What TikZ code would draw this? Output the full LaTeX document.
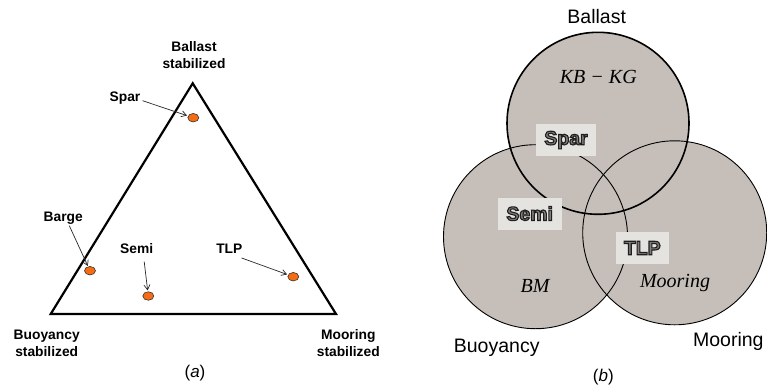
\documentclass[tikz,border=0pt]{standalone}
\usepackage{fontspec}
\setmainfont{Liberation Sans}
\newfontfamily\mathlike{Liberation Serif}
\usetikzlibrary{arrows.meta,shapes.geometric}
\definecolor{circfill}{RGB}{198,191,185}
\definecolor{boxfill}{RGB}{229,227,223}
\definecolor{txtgray}{RGB}{128,125,122}
\definecolor{dotorange}{RGB}{245,108,18}
\newcommand{\outlinetext}[1]{\textcolor{txtgray}{\special{pdf:literal direct 0.12 0.12 0.12 RG 1.1 w 2 Tr}#1\special{pdf:literal direct 0 Tr}}}
\begin{document}
\begin{tikzpicture}[x=1pt,y=-1pt,
  lab/.style={font=\bfseries\fontsize{13.8}{16.5}\selectfont, align=center, inner sep=0pt},
  captext/.style={font=\fontsize{17}{20}\selectfont, inner sep=0pt},
  vlab/.style={font=\fontsize{19.5}{22}\selectfont, inner sep=0pt},
  mlab/.style={font=\mathlike\itshape\fontsize{20}{22}\selectfont, inner sep=0pt},
  dot/.style={ellipse, draw=black!80, line width=0.6pt, fill=dotorange, minimum width=11pt, minimum height=8.5pt, inner sep=0pt},
  arr/.style={draw=black!85, line width=0.7pt, -{Straight Barb[length=5pt,width=6pt]}},
  circ/.style={draw=black, line width=0.9pt},
  tbox/.style={fill=boxfill, inner sep=0pt, minimum height=32pt, font=\bfseries\fontsize{19.5}{22}\selectfont}
]
\useasboundingbox (0,0) rectangle (767,391);
% ---------- panel (a) ----------
\coordinate (top) at (192.7,83.3);
\coordinate (bl) at (50.7,314);
\coordinate (br) at (336,314);
\draw[line width=2.2pt, line join=miter] (top) -- (br) -- (bl) -- cycle;
\node[lab] (lballast) at (194,55) {Ballast\\stabilized};
\node[lab] (lbuoy) at (46.7,343.3) {Buoyancy\\stabilized};
\node[lab] (lmoor) at (348.3,343.3) {Mooring\\stabilized};
\node[captext] (capa) at (195,373.3) {(\textit{a})};
\node[dot] (spar) at (193.3,117.7) {};
\node[dot] (barge) at (90,270.7) {};
\node[dot] (semi) at (148.3,296) {};
\node[dot] (tlp) at (293.3,276.7) {};
\node[lab] (lspar) at (125,97.7) {Spar};
\node[lab] (lbarge) at (63.3,218.3) {Barge};
\node[lab] (lsemi) at (136.7,248.3) {Semi};
\node[lab] (ltlp) at (229.3,249) {TLP};
\draw[arr, shorten >=1pt] ([shift={(2,3)}]lspar.east) -- (spar);
\draw[arr, shorten >=0.5pt] ([shift={(6,1)}]lbarge.south) -- (barge);
\draw[arr, shorten >=1pt] ([shift={(7.5,8)}]lsemi.south) -- (semi);
\draw[arr, shorten >=1pt] ([shift={(-1,4)}]ltlp.south east) -- (tlp);
% ---------- panel (b) ----------
\coordinate (cB) at (598,123.3);
\coordinate (cL) at (535.5,236.7);
\coordinate (cR) at (674.7,232.8);
\fill[circfill] (cB) circle[radius=91];
\fill[circfill] (cL) circle[radius=92];
\fill[circfill] (cR) circle[radius=92];
\draw[circ] (cL) circle[radius=92];
\draw[circ] (cR) circle[radius=92];
\draw[circ, line width=1.6pt] (cB) circle[radius=91];
\node[vlab] (tballast) at (596.7,16.7) {Ballast};
\node[vlab] (tbuoy) at (496.7,348.3) {Buoyancy};
\node[vlab] (tmoor) at (728.3,341.7) {Mooring};
\node[captext] (capb) at (603.3,376.7) {(\textit{b})};
\node[mlab] (mkb) at (598.3,77.3) {KB − KG};
\node[mlab] (mbm) at (535,286) {BM};
\node[mlab] (mmoor) at (675,283.3) {Mooring};
\node[tbox, minimum width=60pt] (bspar) at (566,140) {\outlinetext{Spar}};
\node[tbox, minimum width=64pt] (bsemi) at (529.7,213.5) {\outlinetext{Semi}};
\node[tbox, minimum width=53pt] (btlp) at (642.3,248) {\outlinetext{TLP}};
\end{tikzpicture}
\end{document}
